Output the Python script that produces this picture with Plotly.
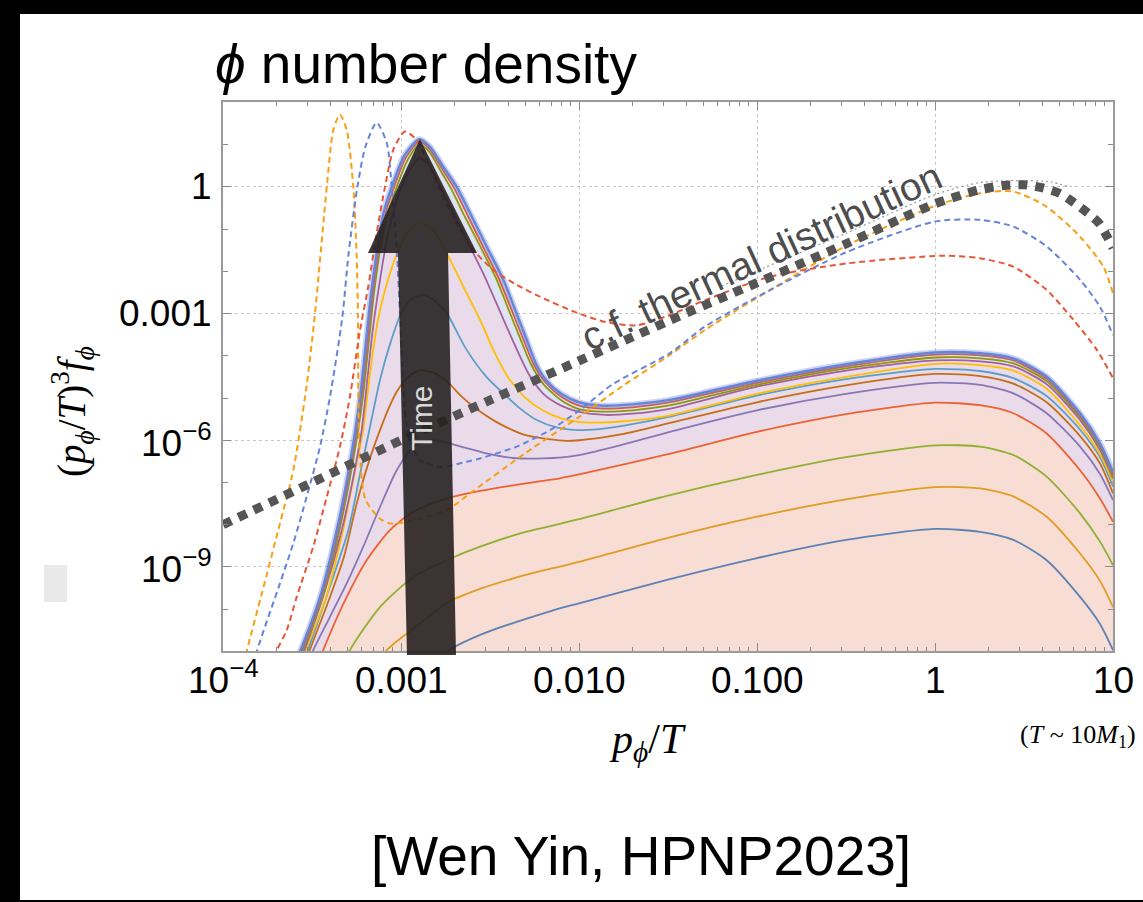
import math
import plotly.graph_objects as go

# ------------------------------------------------------------------
# Values.
# Each list holds log10(p/T) (…_lx) and log10((p/T)^3 f) (…_ly).
# ------------------------------------------------------------------
# lower family (solid)
blue1_lx = [-2.85, -2.73, -2.538, -2.163, -2.0, -1.5, -1.0, -0.5, 0.0, 0.253, 0.44, 0.627, 0.815, 0.927, 1.0]
blue1_ly = [-11.4, -10.97, -10.58, -10.05, -9.86, -9.3, -8.79, -8.36, -8.1, -8.17, -8.36, -8.84, -9.71, -10.35, -10.97]

orange2_lx = [-3.15, -3.08, -2.893, -2.743, -2.556, -2.3, -2.107, -2.0, -1.5, -1.0, -0.5, 0.0, 0.253, 0.44, 0.627, 0.815, 0.927, 1.0]
orange2_ly = [-11.5, -10.97, -10.34, -9.85, -9.52, -9.19, -8.99, -8.88, -8.31, -7.81, -7.4, -7.11, -7.14, -7.33, -7.81, -8.68, -9.33, -9.95]

green3_lx = [-3.35, -3.287, -3.118, -2.93, -2.743, -2.556, -2.3, -2.107, -2.0, -1.5, -1.0, -0.5, 0.0, 0.253, 0.44, 0.627, 0.815, 0.927, 1.0]
green3_ly = [-11.6, -10.97, -9.95, -9.24, -8.84, -8.52, -8.17, -7.98, -7.87, -7.31, -6.82, -6.4, -6.12, -6.15, -6.35, -6.86, -7.73, -8.4, -8.96]

red4_lx = [-3.5, -3.437, -3.305, -3.193, -3.062, -2.93, -2.743, -2.556, -2.3, -2.107, -2.0, -1.5, -1.0, -0.5, 0.0, 0.253, 0.44, 0.627, 0.815, 0.927, 1.0]
red4_ly = [-11.7, -10.97, -9.71, -8.84, -8.13, -7.69, -7.38, -7.2, -7.02, -6.9, -6.81, -6.33, -5.80, -5.38, -5.11, -5.17, -5.36, -5.84, -6.71, -7.38, -7.93]

# upper family (solid)
purple5_lx = [-3.55, -3.493, -3.399, -3.305, -3.212, -3.118, -3.024, -2.93, -2.84, -2.75, -2.663, -2.5, -2.37, -2.2, -2.0, -1.75, -1.49, -1.0, -0.5, 0.0, 0.253, 0.44, 0.627, 0.815, 0.927, 1.0]
purple5_ly = [-11.6, -10.97, -10.18, -9.39, -8.52, -7.58, -6.71, -6.15, -6.0, -6.05, -6.15, -6.33, -6.42, -6.43, -6.35, -6.1, -5.8, -5.29, -4.9, -4.64, -4.69, -4.89, -5.36, -6.15, -6.8, -7.42]

brown6_lx = [-3.58, -3.515, -3.399, -3.32, -3.249, -3.18, -3.118, -3.07, -3.024, -2.96, -2.893, -2.82, -2.743, -2.663, -2.594, -2.45, -2.3, -2.09, -2.0, -1.75, -1.5, -1.0, -0.5, 0.0, 0.253, 0.44, 0.627, 0.815, 0.927, 1.0]
brown6_ly = [-11.8, -11.0, -9.71, -8.75, -7.5, -6.5, -5.76, -5.25, -4.85, -4.5, -4.34, -4.4, -4.6, -4.95, -5.2, -5.6, -5.88, -6.01, -6.0, -5.85, -5.6, -5.1, -4.7, -4.43, -4.48, -4.66, -5.1, -5.9, -6.55, -7.26]

lblue7_lx = [-3.59, -3.525, -3.41, -3.296, -3.23, -3.178, -3.118, -3.06, -3.0, -2.94, -2.875, -2.81, -2.743, -2.64, -2.52, -2.425, -2.33, -2.238, -2.12, -1.994, -1.85, -1.49, -1.0, -0.5, 0.0, 0.253, 0.44, 0.627, 0.815, 0.927, 1.0]
lblue7_ly = [-11.8, -11.0, -9.6, -8.13, -6.8, -5.76, -4.57, -3.7, -3.0, -2.65, -2.56, -2.7, -2.99, -3.8, -4.5, -4.89, -5.25, -5.52, -5.7, -5.76, -5.72, -5.44, -4.94, -4.55, -4.31, -4.36, -4.53, -4.95, -5.75, -6.4, -7.1]

yellow8_lx = [-3.6, -3.537, -3.42, -3.326, -3.25, -3.213, -3.185, -3.156, -3.127, -3.08, -3.015, -2.96, -2.893, -2.82, -2.743, -2.65, -2.556, -2.481, -2.40, -2.30, -2.2, -2.1, -1.994, -1.9, -1.75, -1.5, -1.0, -0.5, 0.0, 0.253, 0.44, 0.627, 0.815, 0.927, 1.0]
yellow8_ly = [-11.8, -11.0, -9.71, -8.13, -6.55, -5.76, -4.8, -3.86, -3.1, -2.3, -1.5, -1.05, -0.85, -1.02, -1.57, -2.36, -3.15, -3.86, -4.5, -5.0, -5.3, -5.48, -5.57, -5.58, -5.55, -5.42, -4.9, -4.5, -4.19, -4.22, -4.35, -4.78, -5.65, -6.33, -6.98]

magenta9_lx = [-3.62, -3.545, -3.43, -3.333, -3.26, -3.221, -3.185, -3.159, -3.118, -3.08, -3.024, -2.96, -2.897, -2.84, -2.781, -2.65, -2.538, -2.444, -2.36, -2.28, -2.2, -2.1, -2.0, -1.85, -1.7, -1.5, -1.0, -0.5, 0.0, 0.253, 0.44, 0.627, 0.815, 0.927, 1.0]
magenta9_ly = [-11.8, -11.0, -9.6, -8.13, -6.7, -5.76, -4.4, -3.39, -2.2, -1.26, -0.31, 0.35, 0.68, 0.5, 0.01, -1.1, -2.05, -2.95, -3.75, -4.45, -4.9, -5.18, -5.33, -5.4, -5.37, -5.26, -4.73, -4.35, -4.11, -4.13, -4.25, -4.67, -5.52, -6.23, -6.9]

olive10_lx = [-3.63, -3.553, -3.44, -3.346, -3.272, -3.214, -3.179, -3.154, -3.12, -3.08, -3.032, -2.965, -2.897, -2.843, -2.78, -2.72, -2.648, -2.555, -2.462, -2.396, -2.334, -2.27, -2.2, -2.1, -2.0, -1.87, -1.7, -1.5, -1.0, -0.5, 0.0, 0.253, 0.44, 0.627, 0.815, 0.927, 1.0]
olive10_ly = [-11.8, -11.0, -9.71, -8.13, -6.55, -4.97, -3.6, -2.6, -1.57, -0.72, -0.1, 0.62, 1.0, 0.84, 0.4, -0.03, -0.65, -1.41, -2.2, -2.9, -3.55, -4.2, -4.67, -5.05, -5.26, -5.32, -5.29, -5.18, -4.69, -4.3, -4.04, -4.06, -4.18, -4.6, -5.46, -6.18, -6.86]

red11_lx = [-3.64, -3.56, -3.448, -3.354, -3.28, -3.222, -3.187, -3.162, -3.128, -3.09, -3.042, -2.972, -2.897, -2.84, -2.772, -2.705, -2.632, -2.54, -2.447, -2.38, -2.318, -2.255, -2.19, -2.1, -2.0, -1.87, -1.7, -1.5, -1.0, -0.5, 0.0, 0.253, 0.44, 0.627, 0.815, 0.927, 1.0]
red11_ly = [-11.8, -11.0, -9.71, -8.13, -6.55, -4.97, -3.6, -2.6, -1.57, -0.68, -0.04, 0.7, 1.07, 0.9, 0.45, 0.0, -0.62, -1.41, -2.2, -2.9, -3.55, -4.2, -4.62, -4.97, -5.18, -5.25, -5.22, -5.11, -4.64, -4.25, -3.97, -3.99, -4.11, -4.54, -5.41, -6.12, -6.8]

blue12_lx = [-3.65, -3.567, -3.455, -3.361, -3.287, -3.23, -3.195, -3.17, -3.137, -3.10, -3.052, -2.98, -2.897, -2.837, -2.763, -2.687, -2.612, -2.519, -2.425, -2.36, -2.30, -2.24, -2.18, -2.1, -2.0, -1.87, -1.7, -1.5, -1.0, -0.5, 0.0, 0.253, 0.44, 0.627, 0.815, 0.927, 1.0]
blue12_ly = [-11.8, -11.0, -9.71, -8.13, -6.55, -4.97, -3.6, -2.6, -1.57, -0.65, 0.0, 0.75, 1.13, 0.95, 0.48, 0.0, -0.62, -1.41, -2.2, -2.9, -3.55, -4.2, -4.6, -4.9, -5.1, -5.18, -5.15, -5.05, -4.59, -4.2, -3.92, -3.94, -4.06, -4.49, -5.36, -6.07, -6.75]

# dashed curves
dash_orange_lx = [-3.92, -3.867, -3.78, -3.68, -3.605, -3.53, -3.483, -3.417, -3.38, -3.343, -3.305, -3.268, -3.249, -3.242, -3.24, -3.232, -3.2, -3.12, -3.062, -2.95, -2.743, -2.594, -2.3, -2.0, -1.75, -1.49, -1.29, -0.93, -0.5, 0.0, 0.253, 0.44, 0.627, 0.815, 0.946, 1.0]
dash_orange_ly = [-12.0, -11.0, -9.6, -7.97, -6.71, -4.7, -2.99, 0.0, 1.35, 1.71, 1.35, 0.0, -1.65, -3.0, -4.8, -6.3, -7.4, -7.85, -7.97, -7.92, -7.65, -7.2, -6.3, -5.45, -4.7, -3.98, -3.38, -2.45, -1.4, -0.45, -0.15, -0.11, -0.47, -1.18, -1.89, -2.52]

dash_blue_lx = [-3.87, -3.81, -3.68, -3.605, -3.53, -3.455, -3.399, -3.33, -3.295, -3.245, -3.2, -3.137, -3.08, -3.052, -3.024, -3.006, -2.996, -2.985, -2.965, -2.93, -2.893, -2.781, -2.631, -2.556, -2.35, -2.163, -1.994, -1.81, -1.49, -1.29, -0.93, -0.5, 0.0, 0.253, 0.44, 0.627, 0.815, 0.927, 1.0]
dash_blue_ly = [-12.0, -11.0, -9.39, -8.44, -7.34, -6.15, -4.97, -3.1, -1.6, 0.0, 0.95, 1.52, 1.04, 0.0, -1.49, -3.0, -3.86, -4.9, -5.7, -6.2, -6.47, -6.63, -6.51, -6.43, -6.15, -5.76, -5.28, -4.67, -3.94, -3.3, -2.45, -1.55, -0.82, -0.78, -0.94, -1.41, -2.2, -2.84, -3.51]

dash_red_lx = [-3.74, -3.7, -3.642, -3.586, -3.493, -3.417, -3.343, -3.287, -3.23, -3.184, -3.137, -3.09, -3.043, -2.978, -2.912, -2.837, -2.763, -2.687, -2.594, -2.481, -2.35, -2.22, -2.0, -1.85, -1.68, -1.5, -1.29, -0.93, -0.49, 0.05, 0.253, 0.44, 0.627, 0.778, 0.909, 1.0]
dash_red_ly = [-11.6, -11.0, -10.5, -9.71, -8.52, -7.34, -6.15, -4.97, -3.39, -2.36, -1.1, 0.0, 0.88, 1.31, 1.11, 0.48, -0.23, -0.86, -1.49, -1.97, -2.32, -2.6, -3.0, -3.2, -3.28, -3.05, -2.68, -2.13, -1.81, -1.63, -1.69, -1.89, -2.44, -3.15, -3.86, -4.53]

# thermal reference curve and its thin companion
thermal_lx = [-4.0, -3.5, -3.0, -2.5, -2.0, -1.5, -1.0, -0.5, 0.0, 0.25, 0.4, 0.5, 0.6, 0.7, 0.76, 0.85, 0.92, 0.97, 1.0]
thermal_ly = [-8.0, -7.0, -6.0, -5.05, -4.12, -3.18, -2.27, -1.35, -0.4, -0.07, 0.04, 0.05, -0.02, -0.15, -0.31, -0.59, -0.85, -1.2, -1.45]
guide_lx = [-1.2, -0.95, -0.5, 0.0, 0.25, 0.45, 0.65, 0.75]
guide_ly = [-2.35, -1.9, -1.1, -0.18, 0.1, 0.15, 0.12, 0.0]

# axis ticks
x_tick_vals = [1e-4, 1e-3, 1e-2, 1e-1, 1, 10]
x_tick_text = ["10<sup>−4</sup>", "0.001", "0.010", "0.100", "1", "10"]
y_tick_vals = [1e-9, 1e-6, 1e-3, 1]
y_tick_text = ["10<sup>−9</sup>", "10<sup>−6</sup>", "0.001", "1"]

# ------------------------------------------------------------------
def vals(lv):
    return [10 ** v for v in lv]

W, H = 1143, 902
ML, MR, MT, MB = 223, 30, 102, 251
PW, PH = W - ML - MR, H - MT - MB


def X(px):
    return (px - ML) / PW


def Y(py):
    return (H - MB - py) / PH


SPL = dict(shape="spline", smoothing=0.7)
fig = go.Figure()

# fills (baseline + tonexty)
for lx, ly, col in [(blue12_lx, blue12_ly, "#dde3f5"),
                    (magenta9_lx, magenta9_ly, "#eadbeb"),
                    (red4_lx, red4_ly, "#f8ddd4")]:
    fig.add_trace(go.Scatter(x=[10 ** -4.6, 10 ** 1.6], y=[1e-14, 1e-14], mode="lines",
                             line=dict(width=0), hoverinfo="skip", showlegend=False))
    fig.add_trace(go.Scatter(x=vals(lx), y=vals(ly), mode="lines", fill="tonexty",
                             fillcolor=col, line=dict(width=0, **SPL),
                             hoverinfo="skip", showlegend=False))

solid = [
    (blue1_lx, blue1_ly, "#5E81B5"),
    (orange2_lx, orange2_ly, "#E19C24"),
    (green3_lx, green3_ly, "#8FB032"),
    (red4_lx, red4_ly, "#EB6235"),
    (purple5_lx, purple5_ly, "#8778B3"),
    (brown6_lx, brown6_ly, "#C56E1A"),
    (lblue7_lx, lblue7_ly, "#5D9EC7"),
    (yellow8_lx, yellow8_ly, "#FFBF00"),
    (magenta9_lx, magenta9_ly, "#A5609D"),
    (olive10_lx, olive10_ly, "#929600"),
    (red11_lx, red11_ly, "#E95536"),
    (blue12_lx, blue12_ly, "#6685D9"),
]
for i, (lx, ly, col) in enumerate(solid):
    if i == 11:  # soft halo under the outermost curve
        fig.add_trace(go.Scatter(x=vals(lx), y=vals(ly), mode="lines",
                                 line=dict(color="rgba(102,133,217,0.35)", width=6, **SPL),
                                 hoverinfo="skip", showlegend=False))
    fig.add_trace(go.Scatter(x=vals(lx), y=vals(ly), mode="lines",
                             line=dict(color=col, width=2.4 if i == 11 else 1.8, **SPL),
                             hoverinfo="skip", showlegend=False))

for lx, ly, col in [(dash_orange_lx, dash_orange_ly, "#F89F13"),
                    (dash_blue_lx, dash_blue_ly, "#6685D9"),
                    (dash_red_lx, dash_red_ly, "#E95536")]:
    fig.add_trace(go.Scatter(x=vals(lx), y=vals(ly), mode="lines",
                             line=dict(color=col, width=2, dash="6px,4px", **SPL),
                             hoverinfo="skip", showlegend=False))

fig.add_trace(go.Scatter(x=vals(guide_lx), y=vals(guide_ly), mode="lines",
                         line=dict(color="#9a9a9a", width=1.2, dash="2px,3px", **SPL),
                         hoverinfo="skip", showlegend=False))
fig.add_trace(go.Scatter(x=vals(thermal_lx), y=vals(thermal_ly), mode="lines",
                         line=dict(color="#555555", width=9, dash="9px,8px", **SPL),
                         hoverinfo="skip", showlegend=False))

# ------------------------------------------------------------------
x_minor = [m * 10 ** k for k in range(-4, 1) for m in range(2, 10)]
y_minor = [10 ** k for k in range(-11, 3) if k not in (-9, -6, -3, 0)]

axis_common = dict(
    showline=True, linecolor="#9a9a9a", linewidth=1.5, mirror="allticks",
    ticks="inside", ticklen=8, tickwidth=1, tickcolor="#8a8a8a",
    showgrid=True, gridcolor="#c6c6c6", griddash="dot", gridwidth=1,
    zeroline=False, tickmode="array", showticklabels=False,
)

fig.update_layout(
    width=W, height=H, autosize=False,
    margin=dict(l=ML, r=MR, t=MT, b=MB, pad=0),
    paper_bgcolor="white", plot_bgcolor="white", showlegend=False,
    xaxis=dict(type="log", range=[-4, 1], tickvals=x_tick_vals, ticktext=x_tick_text,
               minor=dict(tickmode="array", tickvals=x_minor, ticks="inside", ticklen=4,
                          tickcolor="#8a8a8a", showgrid=False),
               **axis_common),
    yaxis=dict(type="log", range=[-10.99, 2.01], tickvals=y_tick_vals, ticktext=y_tick_text,
               minor=dict(tickmode="array", tickvals=y_minor, ticks="inside", ticklen=5,
                          tickcolor="#8a8a8a", showgrid=False),
               **axis_common),
)

# ------------------------------------------------------------------
arrow_pts = [(368, 253), (420, 139), (477, 253), (448, 253), (456, 655), (407, 655), (398, 253)]
arrow_path = "M " + " L ".join(f"{X(a):.4f},{Y(b):.4f}" for a, b in arrow_pts) + " Z"

shapes = [
    dict(type="rect", xref="paper", yref="paper", x0=X(0), x1=X(W), y0=Y(14), y1=Y(0),
         fillcolor="black", line=dict(width=0), layer="below"),
    dict(type="rect", xref="paper", yref="paper", x0=X(0), x1=X(20), y0=Y(H), y1=Y(0),
         fillcolor="black", line=dict(width=0), layer="below"),
    dict(type="rect", xref="paper", yref="paper", x0=X(0), x1=X(W), y0=Y(H), y1=Y(900),
         fillcolor="black", line=dict(width=0), layer="below"),
    dict(type="rect", xref="paper", yref="paper", x0=X(44), x1=X(67), y0=Y(602), y1=Y(565),
         fillcolor="#e9e9e9", line=dict(width=0), layer="below"),
    dict(type="path", path=arrow_path, xref="paper", yref="paper",
         fillcolor="rgba(38,33,33,0.9)", line=dict(width=0), layer="above"),
]
fig.update_layout(shapes=shapes)

SANS = "Liberation Sans, Arial, sans-serif"
SERIF = "Liberation Serif, Times New Roman, serif"
TICKFONT = dict(family=SANS, size=37, color="black")
ann = [
    dict(text="<i>ϕ</i> number density", x=X(213), y=Y(64), xanchor="left", yanchor="middle",
         font=dict(family=SANS, size=55, color="black")),
    dict(text="(<i>p</i><sub><i>ϕ</i></sub>/<i>T</i>)<sup>3</sup><i>f</i><sub><i>ϕ</i></sub>",
         x=X(72), y=Y(412), textangle=-90, xanchor="center", yanchor="middle",
         font=dict(family=SERIF, size=39, color="black")),
    dict(text="<i>p</i><sub><i>ϕ</i></sub>/<i>T</i>", x=X(647), y=Y(742),
         xanchor="center", yanchor="middle", font=dict(family=SERIF, size=42, color="black")),
    dict(text="(<i>T</i> ~ 10<i>M</i><sub>1</sub>)", x=X(1078), y=Y(736),
         xanchor="center", yanchor="middle", font=dict(family=SERIF, size=26, color="black")),
    dict(text="[Wen Yin, HPNP2023]", x=X(641), y=Y(856), xanchor="center", yanchor="middle",
         font=dict(family=SANS, size=55, color="black")),
    dict(text="c.f. thermal distribution", x=X(761), y=Y(256), textangle=-25,
         xanchor="center", yanchor="middle", font=dict(family=SANS, size=39, color="#4d4d4d")),
    dict(text="Time", x=X(421), y=Y(418), textangle=-90, xanchor="center", yanchor="middle",
         font=dict(family=SANS, size=30, color="#d8d8d8")),
]
for a in ann:
    a.update(xref="paper", yref="paper")

# tick labels placed as text next to the axes
for v, t in zip(x_tick_vals, x_tick_text):
    ann.append(dict(text=t, xref="x", x=math.log10(v), yref="paper", y=Y(703),
                    xanchor="center", yanchor="bottom", font=TICKFONT))
for v, t in zip(y_tick_vals, y_tick_text):
    ann.append(dict(text=t, xref="paper", x=X(214), yref="y", y=math.log10(v),
                    xanchor="right", yanchor="middle", font=TICKFONT))
for a in ann:
    a.update(showarrow=False)
fig.update_layout(annotations=ann)

fig.write_html(
    "out.html",
    post_script="document.documentElement.style.overflow='hidden';"
                "document.body.style.margin='0';document.body.style.overflow='hidden';",
)
